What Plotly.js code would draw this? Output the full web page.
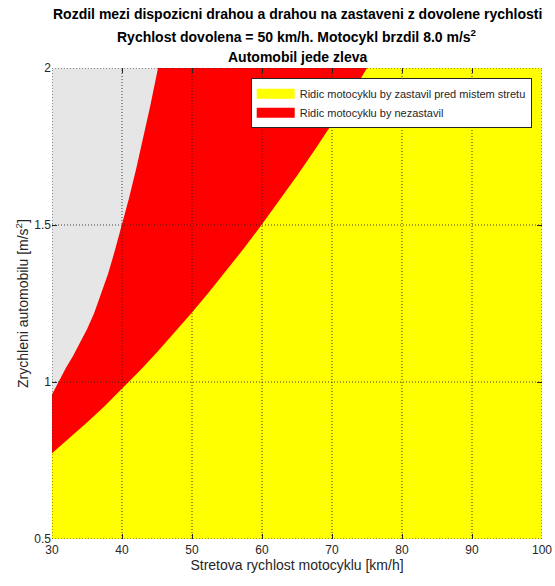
<!DOCTYPE html>
<html>
<head>
<meta charset="utf-8">
<script src="https://cdn.plot.ly/plotly-3.0.1.min.js"></script>
<style>
  html, body { margin: 0; padding: 0; background: #fff; }
  #chart { width: 555px; height: 586px; }
</style>
</head>
<body>
<div id="chart"></div>
<script>
// Boundary between "would stop" (yellow) and "would not stop" (red):
// motorcycle speed [km/h] vs. car acceleration [m/s^2]
const stopSpeed = [30, 32.5, 35, 37.5, 40, 42.5, 45, 47.5, 50, 52.5, 55, 57.5, 60,
                   62.5, 65, 67.5, 70, 72.5, 75, 100];
const stopAccel = [0.773, 0.821, 0.871, 0.923, 0.978, 1.035, 1.095, 1.157, 1.221, 1.288, 1.357, 1.428, 1.502,
                   1.578, 1.657, 1.738, 1.821, 1.907, 2.0, 2.0];

// Upper edge of the red area (beyond it the region is left empty)
const noStopSpeed = [30, 31, 32, 33, 34, 35, 36, 37, 38, 39, 40, 41, 42, 43, 44, 45, 45.15, 100];
const noStopAccel = [0.96, 1.005, 1.045, 1.083, 1.124, 1.168, 1.218, 1.278, 1.344, 1.42, 1.5,
                     1.585, 1.677, 1.774, 1.876, 1.984, 2.0, 2.0];

const xTicks = [30, 40, 50, 60, 70, 80, 90, 100];
const yTicks = [0.5, 1, 1.5, 2];

const titleLines = [
  'Rozdil mezi dispozicni drahou a drahou na zastaveni z dovolene rychlosti',
  'Rychlost dovolena = 50 km/h. Motocykl brzdil 8.0 m/s<sup>2</sup>',
  'Automobil jede zleva'
];
const legendNames = [
  'Ridic motocyklu by zastavil pred mistem stretu',
  'Ridic motocyklu by nezastavil'
];
const areaColors = ['#ffff00', '#ff0000'];

const FONT = 'Liberation Sans, Arial, Helvetica, sans-serif';
const AXC = '#262626';

const traces = [
  {
    x: noStopSpeed, y: noStopAccel, type: 'scatter', mode: 'lines',
    fill: 'tozeroy', fillcolor: areaColors[1], line: {width: 0, color: areaColors[1]},
    showlegend: false, hoverinfo: 'skip'
  },
  {
    x: stopSpeed, y: stopAccel, type: 'scatter', mode: 'lines',
    fill: 'tozeroy', fillcolor: areaColors[0], line: {width: 0, color: areaColors[0]},
    showlegend: false, hoverinfo: 'skip'
  },
  // legend swatches for the two areas
  ...legendNames.map((name, i) => ({
    x: [null], y: [null], type: 'scatter', mode: 'lines',
    line: {width: 10, color: areaColors[i]},
    name: name, legendrank: i + 1, hoverinfo: 'skip'
  }))
];

// dotted grid drawn over the filled areas
const gridLine = {color: 'rgba(30,30,30,0.85)', width: 1, dash: '1px,2px'};
const shapes = [];
xTicks.forEach(v => shapes.push({type: 'line', layer: 'above', xref: 'x', yref: 'paper',
  x0: v, x1: v, y0: 0, y1: 1, line: gridLine}));
yTicks.forEach(v => shapes.push({type: 'line', layer: 'above', xref: 'paper', yref: 'y',
  x0: 0, x1: 1, y0: v, y1: v, line: gridLine}));

const titleY = [1.114, 1.068, 1.024];
const annotations = titleLines.map((t, i) => ({
  text: '<b>' + t + '</b>', xref: 'paper', yref: 'paper', x: 0.5, y: titleY[i],
  xanchor: 'center', yanchor: 'middle', showarrow: false,
  font: {family: FONT, size: 14, color: '#000'}
}));

const layout = {
  width: 555, height: 586,
  margin: {l: 52, r: 13, t: 68, b: 47},
  paper_bgcolor: '#ffffff',
  plot_bgcolor: '#e6e6e6',
  font: {family: FONT, size: 12, color: AXC},
  showlegend: true,
  legend: {
    x: 0.979, y: 0.978, xanchor: 'right', yanchor: 'top',
    bgcolor: '#ffffff', bordercolor: AXC, borderwidth: 1,
    font: {family: FONT, size: 11, color: AXC},
    itemwidth: 38, tracegroupgap: 0
  },
  xaxis: {
    range: [30, 100], tickvals: xTicks, ticktext: xTicks.map(String),
    showgrid: false, zeroline: false, showline: false,
    ticks: 'inside', ticklen: 5, tickcolor: AXC, mirror: 'ticks',
    layer: 'above traces', tickfont: {size: 12, color: AXC}, ticklabelstandoff: 2,
    title: {text: 'Stretova rychlost motocyklu [km/h]', font: {size: 14, color: AXC}, standoff: 4}
  },
  yaxis: {
    range: [0.5, 2], tickvals: yTicks, ticktext: yTicks.map(String),
    showgrid: false, zeroline: false, showline: false,
    ticks: 'inside', ticklen: 5, tickcolor: AXC, mirror: 'ticks',
    layer: 'above traces', tickfont: {size: 12, color: AXC},
    title: {text: 'Zrychleni automobilu [m/s<sup>2</sup>]', font: {size: 14, color: AXC}, standoff: 2}
  },
  shapes: shapes,
  annotations: annotations
};

Plotly.newPlot('chart', traces, layout, {displayModeBar: false, staticPlot: true});
</script>
</body>
</html>
